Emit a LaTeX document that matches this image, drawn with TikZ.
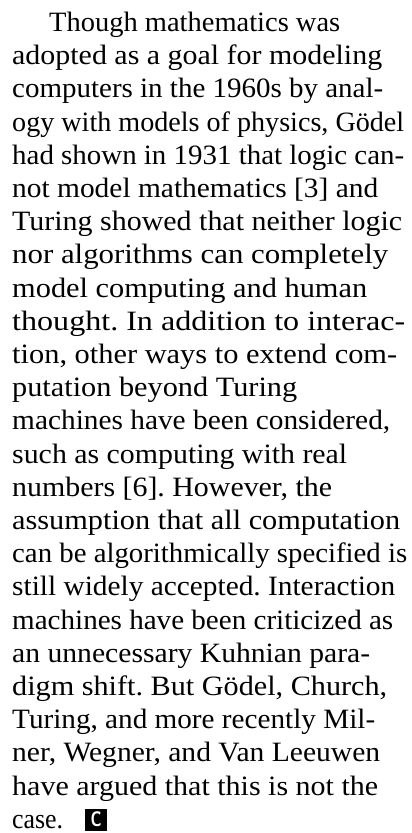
\documentclass[tikz,border=0pt]{standalone}
\usepackage{fontspec}
\setmainfont{Liberation Serif}
\usepackage{graphicx}
\usepackage{tikz}
\usetikzlibrary{positioning}
\frenchspacing

\tikzset{
  textline/.style={anchor=base west,inner sep=0pt,font=\fontsize{28pt}{33pt}\selectfont},
  endbox/.style={fill=black,text=white,inner sep=0pt,minimum size=22pt,font=\sffamily\bfseries\fontsize{21pt}{21pt}\selectfont}
}

\begin{document}
\begin{tikzpicture}[x=1pt,y=1pt]
  \useasboundingbox (0,0) rectangle (412,-833);
  % the column, one node per printed line, each set to its printed width
  \node[textline] (line1) at (49,-31.5) {\resizebox{291pt}{\height}{Though mathematics was}};
  \foreach \w/\lin [count=\i from 2] in {
    370/{adopted as a goal for modeling},
    371/{computers in the 1960s by anal-},
    392/{ogy with models of physics, Gödel},
    392/{had shown in 1931 that logic can-},
    366/{not model mathematics [3] and},
    390/{Turing showed that neither logic},
    376/{nor algorithms can completely},
    355/{model computing and human},
    393/{thought. In addition to interac-},
    385/{tion, other ways to extend com-},
    285/{putation beyond Turing},
    378/{machines have been considered,},
    335/{such as computing with real},
    320/{numbers [6]. However, the},
    388/{assumption that all computation},
    395/{can be algorithmically specified is},
    383/{still widely accepted. Interaction},
    381/{machines have been criticized as},
    358/{an unnecessary Kuhnian para-},
    375/{digm shift. But Gödel, Church,},
    363/{Turing, and more recently Mil-},
    368/{ner, Wegner, and Van Leeuwen},
    366/{have argued that this is not the},
    51/{case.}}{
    \node[textline] (line\i) at (12,-31.5-33.2*\i+33.2) {\resizebox{\w pt}{\height}{\lin}};
  }
  \node[endbox] (endmark) at (96,-819.5) {\resizebox{11pt}{\height}{C}};
\end{tikzpicture}
\end{document}
